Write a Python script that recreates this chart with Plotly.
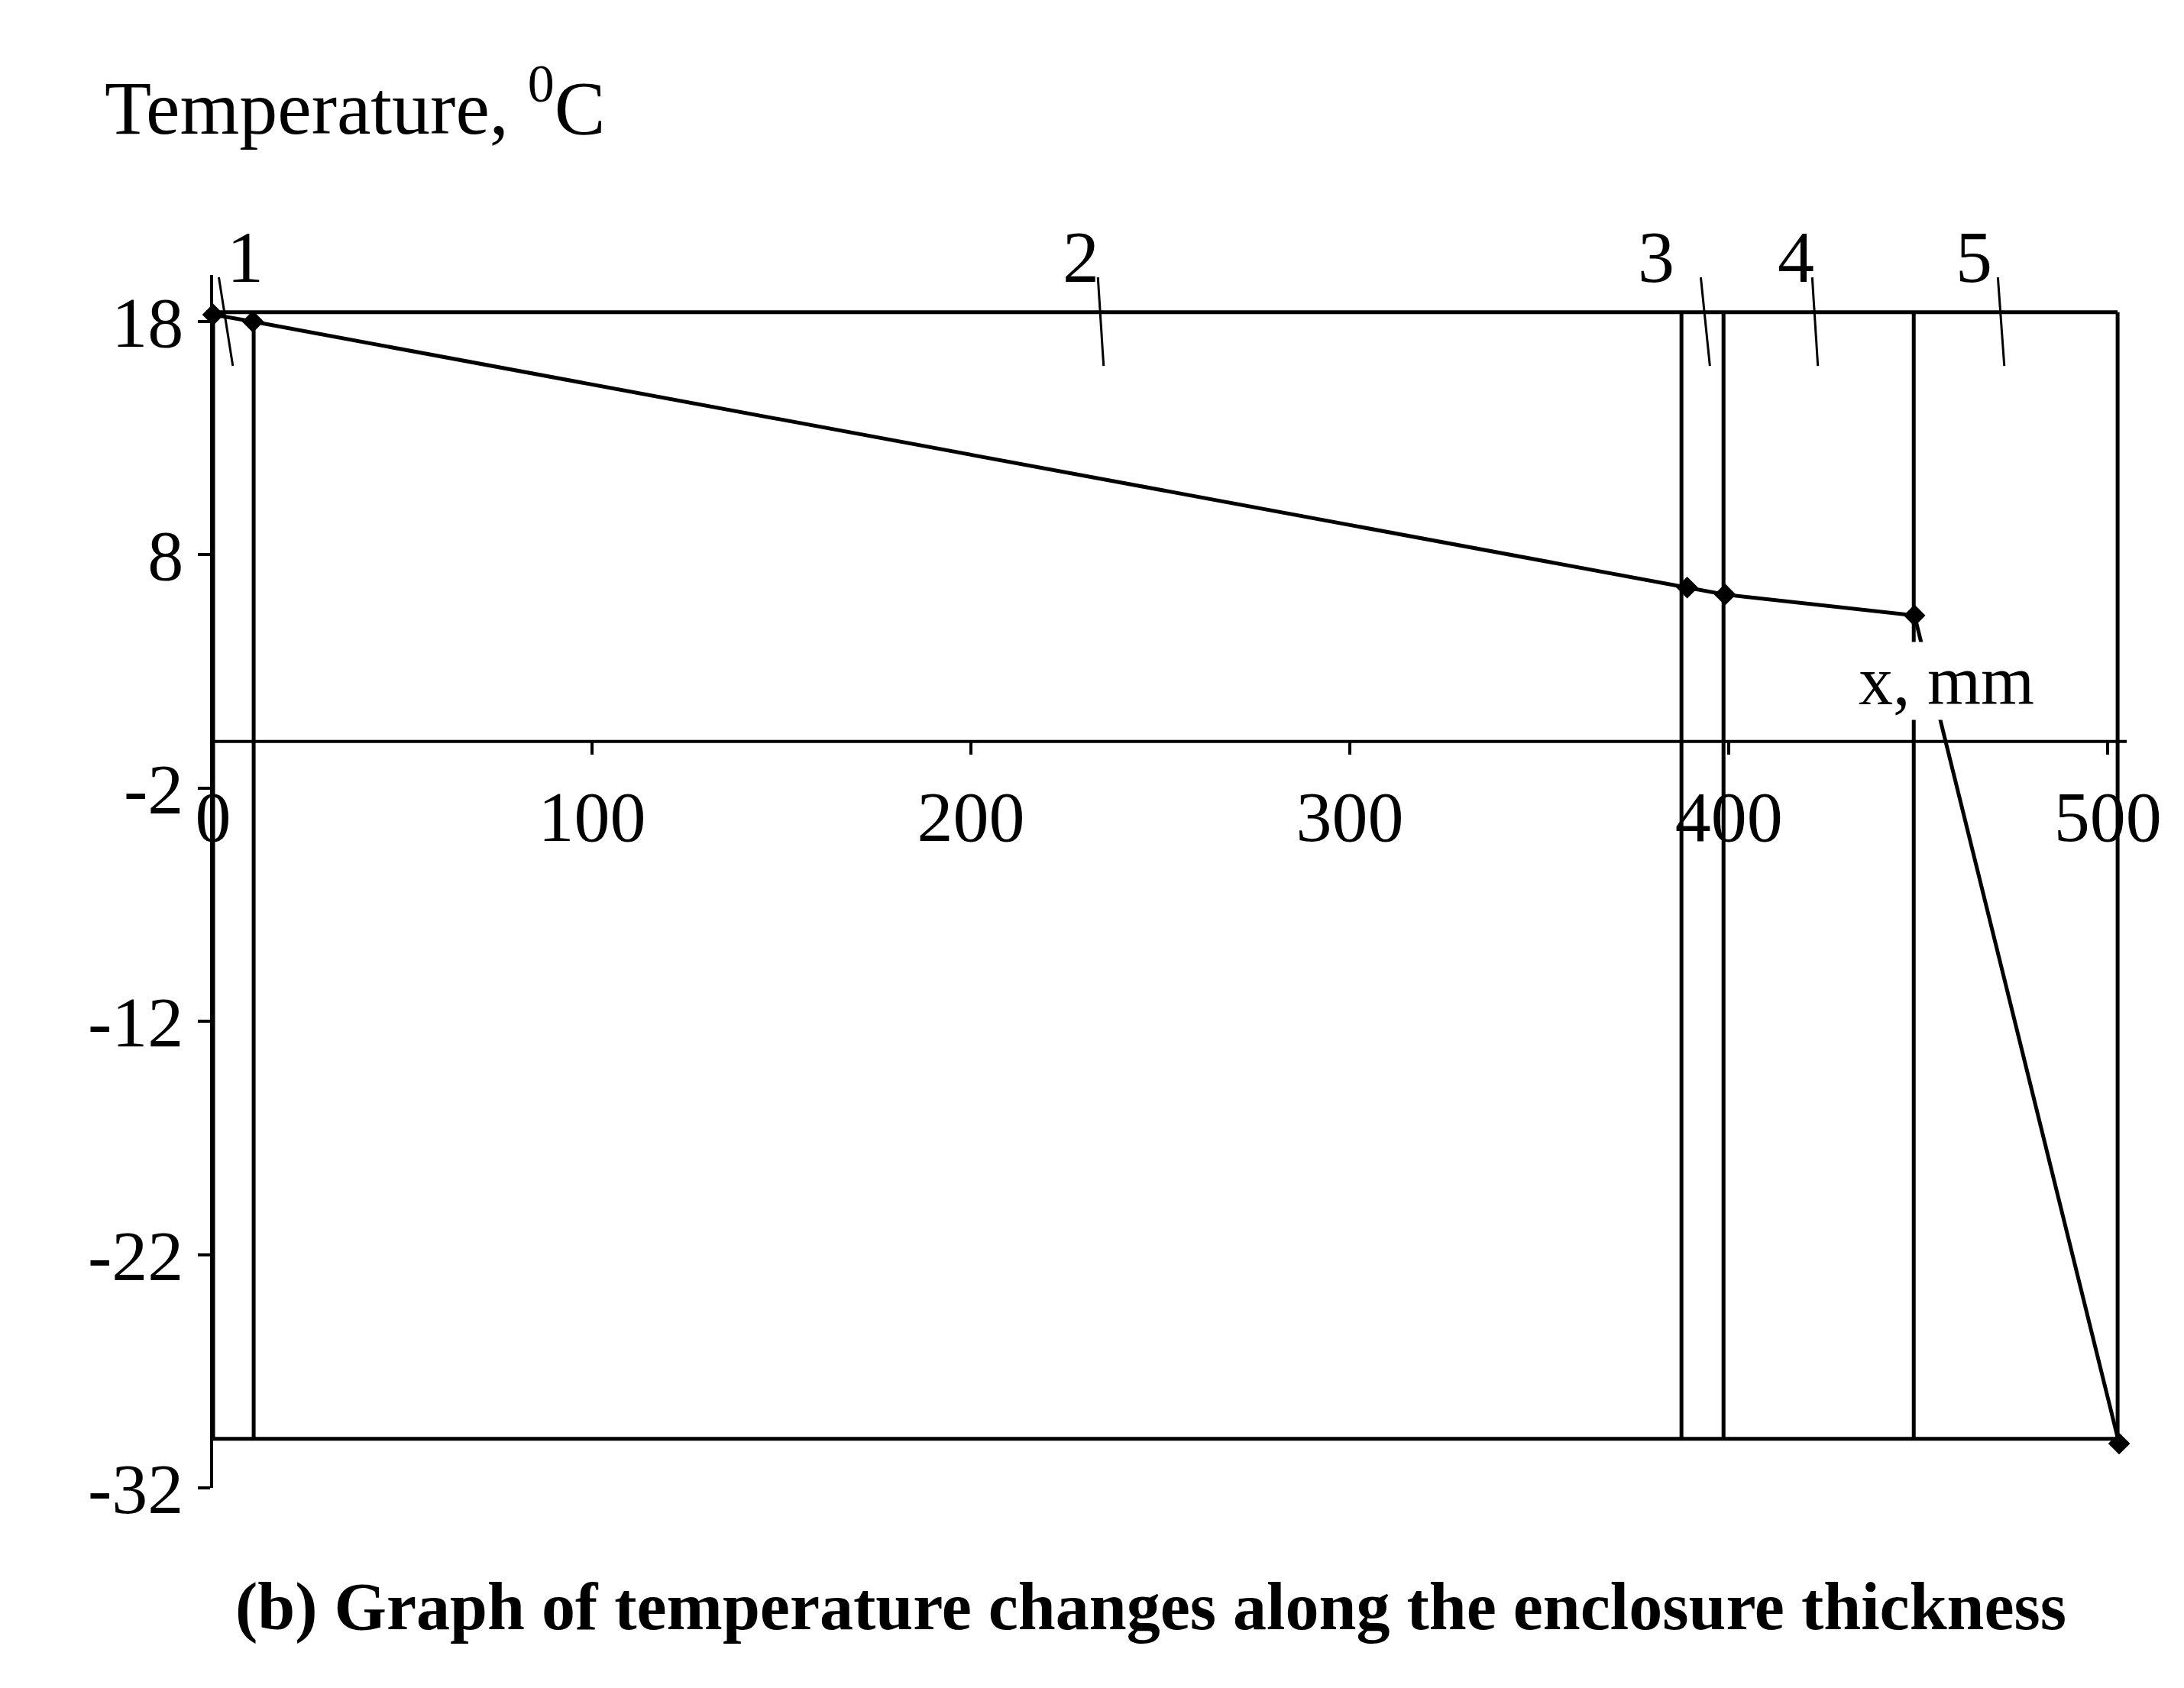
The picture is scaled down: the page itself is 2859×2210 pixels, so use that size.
import plotly.graph_objects as go

x_pts = [0, 10.5, 389, 399, 449, 503]
t_pts = [18.3, 18.0, 6.6, 6.3, 5.4, -30.1]
bounds = [0, 10.7, 387.5, 398.6, 448.8, 502.6]
rect_top, rect_bot = 18.4, -29.9
layer_labels = ["1", "2", "3", "4", "5"]
label_x = [3.3, 229, 386, 423, 470]
lead_top_x = [1.5, 233.5, 392.6, 422, 471]
lead_bot_x = [5.2, 235, 395, 423.5, 472.7]
y_ticks = [18, 8, -2, -12, -22, -32]
y_ticktext = ["18", "8", "-2", "-12", "-22", "-32"]
x_ticks = [0, 100, 200, 300, 400, 500]

XR = [0, 505]
YR = [-32, 20]
def px(x): return (x - XR[0]) / (XR[1] - XR[0])
def py(y): return (y - YR[0]) / (YR[1] - YR[0])

F = "Liberation Serif"
fig = go.Figure()
fig.add_trace(go.Scatter(x=x_pts, y=t_pts, mode="lines+markers",
                         line=dict(color="black", width=5),
                         marker=dict(symbol="diamond", size=22, color="black"),
                         cliponaxis=False, showlegend=False))
shapes = []
for b in bounds:
    shapes.append(dict(type="line", x0=b, x1=b, y0=rect_bot, y1=rect_top,
                       line=dict(color="black", width=5)))
for yy in (rect_top, rect_bot):
    shapes.append(dict(type="line", x0=bounds[0], x1=bounds[-1], y0=yy, y1=yy,
                       line=dict(color="black", width=5)))
shapes.append(dict(type="line", x0=0, x1=505, y0=0, y1=0, line=dict(color="black", width=4)))
for a, b in zip(lead_top_x, lead_bot_x):
    shapes.append(dict(type="line", x0=a, x1=b, y0=19.9, y1=16.1,
                       line=dict(color="black", width=3)))
ann = []
for lx, t in zip(label_x, layer_labels):
    ann.append(dict(x=px(lx), y=py(22.6), text=t, showarrow=False, xref="paper", yref="paper",
                    font=dict(family=F, size=96, color="black")))
ann.append(dict(x=px(481), y=py(2.6), xref="paper", yref="paper", text="x, mm",
                showarrow=False, bgcolor="white",
                font=dict(family=F, size=90, color="black")))
ann.append(dict(x=px(-29), y=py(27.4), xref="paper", yref="paper",
                text="Temperature, <sup>0</sup>C", showarrow=False,
                xanchor="left", yanchor="middle",
                font=dict(family=F, size=100, color="black")))
ann.append(dict(x=0.49, y=-0.13, xref="paper", yref="paper", showarrow=False,
                text="<b>(b) Graph of temperature changes along the enclosure thickness</b>",
                font=dict(family=F, size=88, color="black")))
fig.update_layout(
    width=2859, height=2210, plot_bgcolor="white", paper_bgcolor="white",
    margin=dict(l=271, r=83, t=352, b=270), shapes=shapes, annotations=ann,
    xaxis=dict(range=XR, tickvals=x_ticks, anchor="free", position=py(0),
               showline=False, showgrid=False, zeroline=False, ticks="outside",
               ticklen=16, tickwidth=4, tickcolor="black",
               tickfont=dict(family=F, size=94, color="black")),
    yaxis=dict(range=YR, tickvals=y_ticks, ticktext=y_ticktext, showline=True,
               linecolor="black", linewidth=4, showgrid=False, zeroline=False,
               ticks="outside", ticklen=16, tickwidth=4, tickcolor="black",
               tickfont=dict(family=F, size=94, color="black")),
)
fig.write_html("out.html")
